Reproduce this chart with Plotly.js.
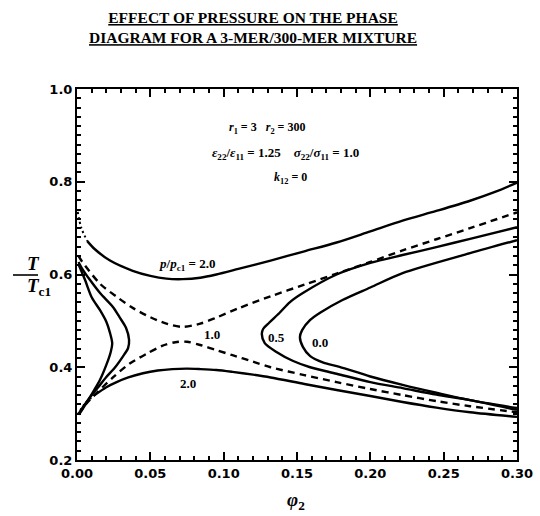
<!DOCTYPE html>
<html>
<head>
<meta charset="utf-8">
<script src="https://cdn.plot.ly/plotly-3.0.1.min.js"></script>
<style>
  html, body { margin: 0; padding: 0; background: #fff; }
  #chart { width: 540px; height: 516px; }
</style>
</head>
<body>
<div id="chart"></div>
<script>
// Coexistence curves, T/Tc1 against polymer volume fraction phi2, per reduced pressure p/pc1.

// p/pc1 = 2.0, upper branch (solid) and its dotted start at the axis
const p20UpperX = [0.007, 0.012, 0.0225, 0.038, 0.050, 0.061, 0.072, 0.084, 0.095, 0.110, 0.132, 0.155, 0.177, 0.200, 0.222, 0.245, 0.268, 0.285, 0.300];
const p20UpperY = [0.672, 0.655, 0.630, 0.608, 0.597, 0.591, 0.590, 0.593, 0.600, 0.612, 0.630, 0.650, 0.669, 0.693, 0.716, 0.737, 0.759, 0.778, 0.798];
const p20UpperDotX = [0.0005, 0.003, 0.007];
const p20UpperDotY = [0.735, 0.700, 0.672];

// p/pc1 = 2.0, lower branch (solid) and its dotted start
const p20LowerX = [0.012, 0.020, 0.027, 0.035, 0.045, 0.055, 0.065, 0.075, 0.084, 0.095, 0.106, 0.120, 0.132, 0.155, 0.177, 0.200, 0.222, 0.245, 0.268, 0.300];
const p20LowerY = [0.340, 0.357, 0.368, 0.378, 0.387, 0.393, 0.396, 0.397, 0.396, 0.394, 0.390, 0.384, 0.378, 0.364, 0.351, 0.338, 0.325, 0.313, 0.303, 0.293];
const p20LowerDotX = [0.0005, 0.005, 0.012];
const p20LowerDotY = [0.298, 0.320, 0.340];

// p/pc1 = 1.0, upper and lower branches (dashed)
const p10UpperX = [0.001, 0.0034, 0.0157, 0.027, 0.038, 0.050, 0.061, 0.072, 0.084, 0.095, 0.110, 0.132, 0.155, 0.177, 0.200, 0.222, 0.245, 0.268, 0.300];
const p10UpperY = [0.640, 0.628, 0.580, 0.552, 0.528, 0.508, 0.494, 0.487, 0.494, 0.507, 0.527, 0.553, 0.578, 0.602, 0.627, 0.652, 0.676, 0.700, 0.734];
const p10LowerX = [0.001, 0.0068, 0.0245, 0.036, 0.048, 0.058, 0.067, 0.075, 0.084, 0.095, 0.106, 0.120, 0.132, 0.155, 0.177, 0.200, 0.222, 0.245, 0.268, 0.300];
const p10LowerY = [0.298, 0.323, 0.378, 0.408, 0.430, 0.446, 0.454, 0.455, 0.448, 0.437, 0.426, 0.412, 0.400, 0.383, 0.368, 0.353, 0.340, 0.327, 0.316, 0.303];

// p/pc1 = 0.5, small loop near the axis and open loop on the right
const p05LeftX = [0.001, 0.004, 0.0089, 0.0157, 0.0245, 0.029, 0.0334, 0.0355, 0.0348, 0.031, 0.026, 0.020, 0.0157, 0.011, 0.004, 0.001];
const p05LeftY = [0.627, 0.610, 0.588, 0.560, 0.530, 0.508, 0.485, 0.459, 0.441, 0.422, 0.400, 0.379, 0.362, 0.344, 0.314, 0.299];
const p05RightX = [0.300, 0.268, 0.245, 0.222, 0.200, 0.177, 0.154, 0.145, 0.138, 0.131, 0.127, 0.126, 0.128, 0.136, 0.147, 0.159, 0.177, 0.200, 0.222, 0.245, 0.268, 0.300];
const p05RightY = [0.702, 0.677, 0.659, 0.642, 0.625, 0.600, 0.560, 0.540, 0.517, 0.496, 0.483, 0.472, 0.452, 0.433, 0.414, 0.400, 0.386, 0.368, 0.355, 0.341, 0.329, 0.308];

// p/pc1 = 0.0, small loop near the axis and open loop on the right
const p00LeftX = [0.001, 0.0055, 0.010, 0.0157, 0.020, 0.0225, 0.024, 0.023, 0.020, 0.0157, 0.011, 0.0068, 0.002];
const p00LeftY = [0.622, 0.588, 0.551, 0.523, 0.498, 0.474, 0.452, 0.433, 0.405, 0.373, 0.347, 0.325, 0.301];
const p00RightX = [0.300, 0.268, 0.222, 0.200, 0.181, 0.166, 0.159, 0.1535, 0.152, 0.154, 0.159, 0.168, 0.179, 0.200, 0.222, 0.245, 0.268, 0.300];
const p00RightY = [0.674, 0.646, 0.603, 0.572, 0.545, 0.518, 0.502, 0.480, 0.465, 0.444, 0.424, 0.410, 0.401, 0.380, 0.362, 0.345, 0.329, 0.312];

// Curve labels
const labelText = ['<i>p</i>/<i>p</i><sub>c1</sub> = 2.0', '1.0', '2.0', '0.5', '0.0'];
const labelX = [0.075, 0.092, 0.076, 0.136, 0.166];
const labelY = [0.621, 0.470, 0.366, 0.465, 0.454];

// Tick values and labels
const xTicks = [0.00, 0.05, 0.10, 0.15, 0.20, 0.25, 0.30];
const xTickText = ['0.00', '0.05', '0.10', '0.15', '0.20', '0.25', '0.30'];
const yTicks = [0.2, 0.4, 0.6, 0.8, 1.0];
const yTickText = ['0.2', '0.4', '0.6', '0.8', '1.0'];

const ink = '#000';
const solid = { color: ink, width: 2.4, shape: 'spline', smoothing: 0.8 };
const dashed = { color: ink, width: 2.4, dash: '7px,5px', shape: 'spline', smoothing: 0.8 };
const dotted = { color: ink, width: 2, dash: '2px,3px', shape: 'spline' };

function curve(x, y, line) {
  return { x: x, y: y, type: 'scatter', mode: 'lines', line: line, hoverinfo: 'skip', showlegend: false };
}

const traces = [
  curve(p20UpperDotX, p20UpperDotY, dotted),
  curve(p20UpperX, p20UpperY, solid),
  curve(p20LowerDotX, p20LowerDotY, dotted),
  curve(p20LowerX, p20LowerY, solid),
  curve(p10UpperX, p10UpperY, dashed),
  curve(p10LowerX, p10LowerY, dashed),
  curve(p05LeftX, p05LeftY, solid),
  curve(p05RightX, p05RightY, solid),
  curve(p00LeftX, p00LeftY, solid),
  curve(p00RightX, p00RightY, solid)
];

const serif = 'Liberation Serif, Times New Roman, serif';
const tickFont = { family: 'DejaVu Sans, Arial, sans-serif', size: 13, color: ink, weight: 'bold' };

// page pixel -> paper fraction (plot area spans x 77..517, y 89..460)
const ML = 77, MR = 23, MT = 89, MB = 56;
const plotW = 540 - ML - MR, plotH = 516 - MT - MB;
const px = v => (v - ML) / plotW;
const py = v => (516 - MB - v) / plotH;

const annotations = labelText.map((t, i) => ({
  x: labelX[i], y: labelY[i], xref: 'x', yref: 'y', text: t, showarrow: false,
  font: { family: serif, size: 13, color: ink, weight: 'bold' }
}));

// Title, underlined, two lines
annotations.push({
  x: px(253), y: py(7), xref: 'paper', yref: 'paper', xanchor: 'center', yanchor: 'top',
  showarrow: false,
  text: '<u>EFFECT OF PRESSURE ON THE PHASE</u><br><u>DIAGRAM FOR A 3-MER/300-MER MIXTURE</u>',
  font: { family: serif, size: 15.5, color: ink, weight: 'bold' }
});

// Model parameters
annotations.push(
  { x: px(267), y: py(118), xref: 'paper', yref: 'paper', showarrow: false,
    text: '<i>r</i><sub>1</sub> = 3   <i>r</i><sub>2</sub> = 300',
    font: { family: serif, size: 12, color: ink, weight: 'bold' } },
  { x: px(285), y: py(143), xref: 'paper', yref: 'paper', showarrow: false,
    text: '<i>ε</i><sub>22</sub>/<i>ε</i><sub>11</sub> = 1.25&nbsp;&nbsp;&nbsp;&nbsp;<i>σ</i><sub>22</sub>/<i>σ</i><sub>11</sub> = 1.0',
    font: { family: serif, size: 13, color: ink, weight: 'bold' } },
  { x: px(290), y: py(168), xref: 'paper', yref: 'paper', showarrow: false,
    text: '<i>k</i><sub>12</sub> = 0',
    font: { family: serif, size: 12, color: ink, weight: 'bold' } }
);

// Axis titles: T over Tc1 as a stacked fraction, and phi2 below the x axis
annotations.push(
  { x: px(25), y: py(263), xref: 'paper', yref: 'paper', showarrow: false,
    text: '<i>T</i>', font: { family: serif, size: 19, color: ink, weight: 'bold' } },
  { x: px(25), y: py(287), xref: 'paper', yref: 'paper', showarrow: false,
    text: '<i>T</i><sub>c1</sub>', font: { family: serif, size: 19, color: ink, weight: 'bold' } },
  { x: px(296), y: py(515), xref: 'paper', yref: 'paper', yanchor: 'bottom', showarrow: false,
    text: '<i>φ</i><sub>2</sub>', font: { family: serif, size: 19, color: ink, weight: 'bold' } }
);

const layout = {
  width: 540, height: 516,
  margin: { l: ML, r: MR, t: MT, b: MB, pad: 0 },
  paper_bgcolor: '#fff', plot_bgcolor: '#fff',
  showlegend: false,
  xaxis: {
    range: [0, 0.3], tickvals: xTicks, ticktext: xTickText,
    showgrid: false, zeroline: false, showline: true, linecolor: ink, linewidth: 2,
    mirror: 'ticks', ticks: 'inside', ticklen: 8, tickwidth: 2, tickcolor: ink,
    minor: { dtick: 0.01, ticks: 'inside', ticklen: 4, tickwidth: 2, tickcolor: ink, showgrid: false },
    tickfont: tickFont
  },
  yaxis: {
    range: [0.2, 1.0], tickvals: yTicks, ticktext: yTickText,
    showgrid: false, zeroline: false, showline: true, linecolor: ink, linewidth: 2,
    mirror: 'ticks', ticks: 'inside', ticklen: 8, tickwidth: 2, tickcolor: ink,
    minor: { dtick: 0.02, ticks: 'inside', ticklen: 4, tickwidth: 2, tickcolor: ink, showgrid: false },
    tickfont: tickFont
  },
  annotations: annotations,
  shapes: [
    // fraction bar of the y-axis title
    { type: 'line', xref: 'paper', yref: 'paper',
      x0: px(13), x1: px(38), y0: py(275), y1: py(275),
      line: { color: ink, width: 1.6 } }
  ]
};

Plotly.newPlot('chart', traces, layout, { staticPlot: true, displayModeBar: false });
</script>
</body>
</html>
